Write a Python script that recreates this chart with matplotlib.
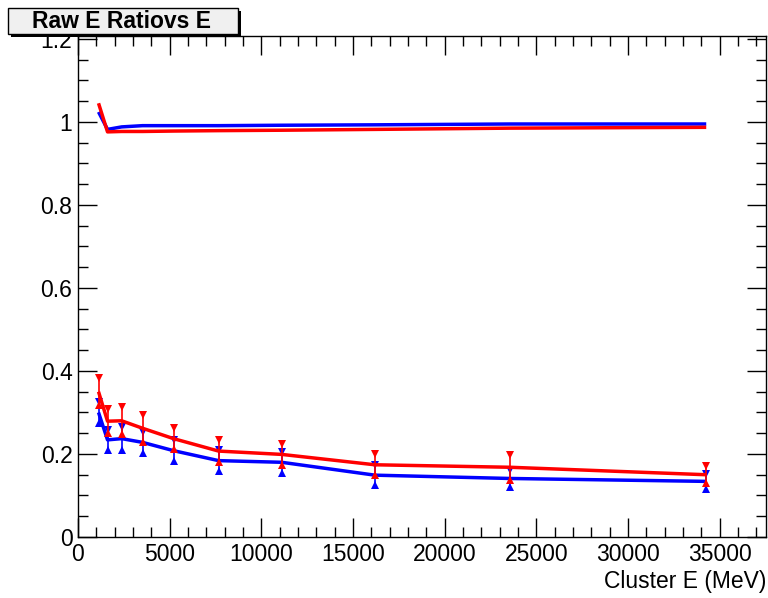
import matplotlib.pyplot as plt
from matplotlib.patches import Rectangle
from matplotlib.ticker import MultipleLocator
import numpy as np

plt.rcParams['font.family'] = ['Liberation Sans', 'DejaVu Sans']

# cluster energy bins (MeV)
energy = np.array([1120, 1610, 2380, 3520, 5210, 7670, 11110, 16190, 23570, 34270])

# ratio near 1
red_hi = np.array([1.045, 0.976, 0.977, 0.977, 0.978, 0.979, 0.980, 0.982, 0.985, 0.987])
blue_hi = np.array([1.024, 0.982, 0.988, 0.991, 0.991, 0.991, 0.992, 0.993, 0.995, 0.995])

# raw ratio with spread
red_lo = np.array([0.350, 0.279, 0.280, 0.262, 0.237, 0.207, 0.199, 0.174, 0.168, 0.150])
red_err = np.array([0.033, 0.029, 0.033, 0.033, 0.026, 0.027, 0.026, 0.025, 0.030, 0.020])
blue_lo = np.array([0.300, 0.234, 0.237, 0.228, 0.208, 0.184, 0.180, 0.149, 0.141, 0.134])
blue_err = np.array([0.025, 0.024, 0.028, 0.026, 0.025, 0.025, 0.025, 0.024, 0.020, 0.018])

W, H = 768, 598
fig = plt.figure(figsize=(W / 100, H / 100), dpi=100)
ax = fig.add_axes([78 / W, 1 - 537 / H, (766 - 78) / W, (537 - 36) / H])

for col, hi, lo, err in [('#0000ff', blue_hi, blue_lo, blue_err),
                         ('#ff0000', red_hi, red_lo, red_err)]:
    ax.plot(energy, hi, color=col, lw=2.5, solid_capstyle='butt')
    ax.plot(energy, lo, color=col, lw=2.5, solid_capstyle='butt')
    ax.vlines(energy, lo - err, lo + err, color=col, lw=1.2)
    ax.plot(energy, lo + err, 'v', color=col, ms=6, mew=0)
    ax.plot(energy, lo - err, '^', color=col, ms=6, mew=0)

ax.set_xlim(0, 37530)
ax.set_ylim(0, 1.207)
ax.xaxis.set_major_locator(MultipleLocator(5000))
ax.xaxis.set_minor_locator(MultipleLocator(1000))
ax.yaxis.set_minor_locator(MultipleLocator(0.05))
ax.set_yticks([0, 0.2, 0.4, 0.6, 0.8, 1.0, 1.2])
ax.set_yticklabels(['0', '0.2', '0.4', '0.6', '0.8', '1', '1.2'])

ax.tick_params(which='both', direction='in', top=True, right=True,
               labelsize=16.5, width=1, color='black')
ax.tick_params(which='major', length=14, pad=4)
ax.tick_params(which='minor', length=7)
for s in ax.spines.values():
    s.set_linewidth(1)

ax.set_xlabel('Cluster E (MeV)', fontsize=16.5, loc='right', labelpad=3)

# title box with shadow
def px_rect(x0, y0, x1, y1, **kw):
    return Rectangle((x0 / W, 1 - y1 / H), (x1 - x0) / W, (y1 - y0) / H,
                     transform=fig.transFigure, **kw)

fig.patches.append(px_rect(11, 11, 241, 37, facecolor='black', edgecolor='none', zorder=5))
fig.patches.append(px_rect(8, 8, 238, 34, facecolor='#f0f0f0', edgecolor='black',
                           lw=1, zorder=6))
fig.text(122 / W, 1 - 22 / H, 'Raw E Ratiovs E', ha='center', va='center',
         fontsize=16.5, fontweight='bold', zorder=7)

fig.savefig('out.png', dpi=100)
